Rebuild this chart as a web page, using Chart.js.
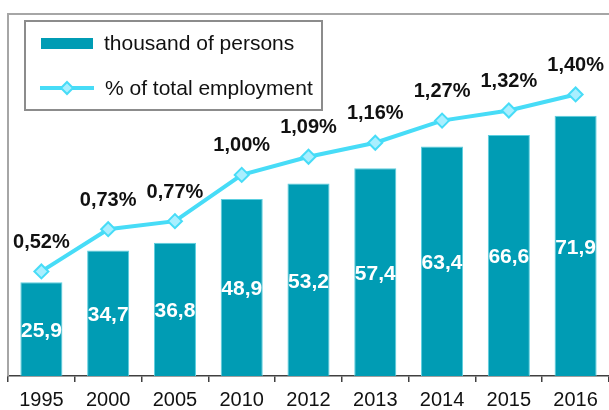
<!DOCTYPE html>
<html>
<head>
<meta charset="utf-8">
<script src="https://cdn.jsdelivr.net/npm/chart.js@4.4.0/dist/chart.umd.min.js"></script>
<style>
  html, body { margin: 0; padding: 0; background: #fff; overflow: hidden; }
  #wrap { width: 609px; height: 410px; position: relative; }
</style>
</head>
<body>
<div id="wrap"><canvas id="chart"></canvas></div>
<script>
const years = ['1995', '2000', '2005', '2010', '2012', '2013', '2014', '2015', '2016'];
const persons = [25.9, 34.7, 36.8, 48.9, 53.2, 57.4, 63.4, 66.6, 71.9];
const share = [0.52, 0.73, 0.77, 1.00, 1.09, 1.16, 1.27, 1.32, 1.40];

const BAR = '#009cb4';
const LINE = '#47dcf7';
const FONT = 'Arial, "Liberation Sans", sans-serif';

const fmt = (v, d) => v.toFixed(d).replace('.', ',');

// frame on top and left, like the original plot box
const framePlugin = {
  id: 'frame',
  beforeDatasetsDraw(chart) {
    const { ctx, chartArea: a } = chart;
    ctx.save();
    ctx.strokeStyle = '#a6a6a6';
    ctx.lineWidth = 2;
    ctx.beginPath();
    ctx.moveTo(a.left, a.bottom);
    ctx.lineTo(a.left, a.top);
    ctx.lineTo(a.right, a.top);
    ctx.stroke();
    ctx.restore();
  }
};

// value labels: white in the bars, black above the line
const labelPlugin = {
  id: 'labels',
  afterDatasetsDraw(chart) {
    const { ctx } = chart;
    ctx.save();
    ctx.textAlign = 'center';
    ctx.textBaseline = 'middle';
    const bars = chart.getDatasetMeta(0).data;
    ctx.fillStyle = '#ffffff';
    ctx.font = 'bold 21px ' + FONT;
    bars.forEach((b, i) => {
      ctx.fillText(fmt(persons[i], 1), b.x, (b.y + b.base) / 2 + 2);
    });
    const pts = chart.getDatasetMeta(1).data;
    ctx.fillStyle = '#111111';
    ctx.font = 'bold 20px ' + FONT;
    pts.forEach((p, i) => {
      ctx.fillText(fmt(share[i], 2) + '%', p.x, p.y - 29);
    });
    ctx.restore();
  }
};

// boxed legend in the top left corner
const legendPlugin = {
  id: 'boxLegend',
  afterDraw(chart) {
    const { ctx } = chart;
    const ds = chart.data.datasets;
    ctx.save();
    ctx.fillStyle = '#ffffff';
    ctx.fillRect(25, 21, 297, 89);
    ctx.strokeStyle = '#8c8c8c';
    ctx.lineWidth = 2;
    ctx.strokeRect(25, 21, 297, 89);

    ctx.fillStyle = ds[0].backgroundColor;
    ctx.fillRect(41, 38, 52, 11);

    ctx.strokeStyle = ds[1].borderColor;
    ctx.lineWidth = 4;
    ctx.beginPath();
    ctx.moveTo(40, 88);
    ctx.lineTo(94, 88);
    ctx.stroke();
    ctx.beginPath();
    ctx.moveTo(67, 82); ctx.lineTo(73, 88); ctx.lineTo(67, 94); ctx.lineTo(61, 88);
    ctx.closePath();
    ctx.fillStyle = ds[1].pointBackgroundColor;
    ctx.fill();
    ctx.lineWidth = 2;
    ctx.stroke();

    ctx.fillStyle = '#111111';
    ctx.font = '21px ' + FONT;
    ctx.textBaseline = 'middle';
    ctx.fillText(ds[0].label, 104, 44);
    ctx.fillText(ds[1].label, 105, 89);
    ctx.restore();
  }
};

new Chart(document.getElementById('chart'), {
  data: {
    labels: years,
    datasets: [{
      type: 'bar',
      label: 'thousand of persons',
      data: persons,
      backgroundColor: BAR,
      borderColor: '#5ccfe0',
      borderWidth: { left: 1, right: 1, top: 1, bottom: 0 },
      categoryPercentage: 1,
      barPercentage: 0.63,
      yAxisID: 'y',
      order: 2
    }, {
      type: 'line',
      label: '% of total employment',
      data: share,
      borderColor: LINE,
      borderWidth: 4,
      pointStyle: 'rectRot',
      pointRadius: 7,
      pointBackgroundColor: '#a9efff',
      pointBorderColor: LINE,
      pointBorderWidth: 2,
      tension: 0,
      yAxisID: 'y1',
      order: 1
    }]
  },
  options: {
    responsive: true,
    maintainAspectRatio: false,
    animation: false,
    layout: { autoPadding: false, padding: { left: 8, top: 14, right: 0, bottom: 0 } },
    plugins: {
      legend: { display: false },
      tooltip: { enabled: false }
    },
    scales: {
      x: {
        offset: true,
        grid: {
          offset: true,
          drawOnChartArea: false,
          drawTicks: true,
          tickLength: 6,
          color: '#404040',
          lineWidth: 1.5
        },
        border: { color: '#404040', width: 1.5 },
        ticks: {
          color: '#111111',
          font: { family: FONT, size: 20 },
          padding: 6,
          maxRotation: 0
        },
        afterFit(scale) {
          scale.height = 34;
          scale.paddingLeft = 0;
          scale.paddingRight = 0;
        }
      },
      y: { display: false, min: 0, max: 100 },
      y1: { display: false, min: 0, max: 1.8 }
    }
  },
  plugins: [framePlugin, labelPlugin, legendPlugin]
});
</script>
</body>
</html>
